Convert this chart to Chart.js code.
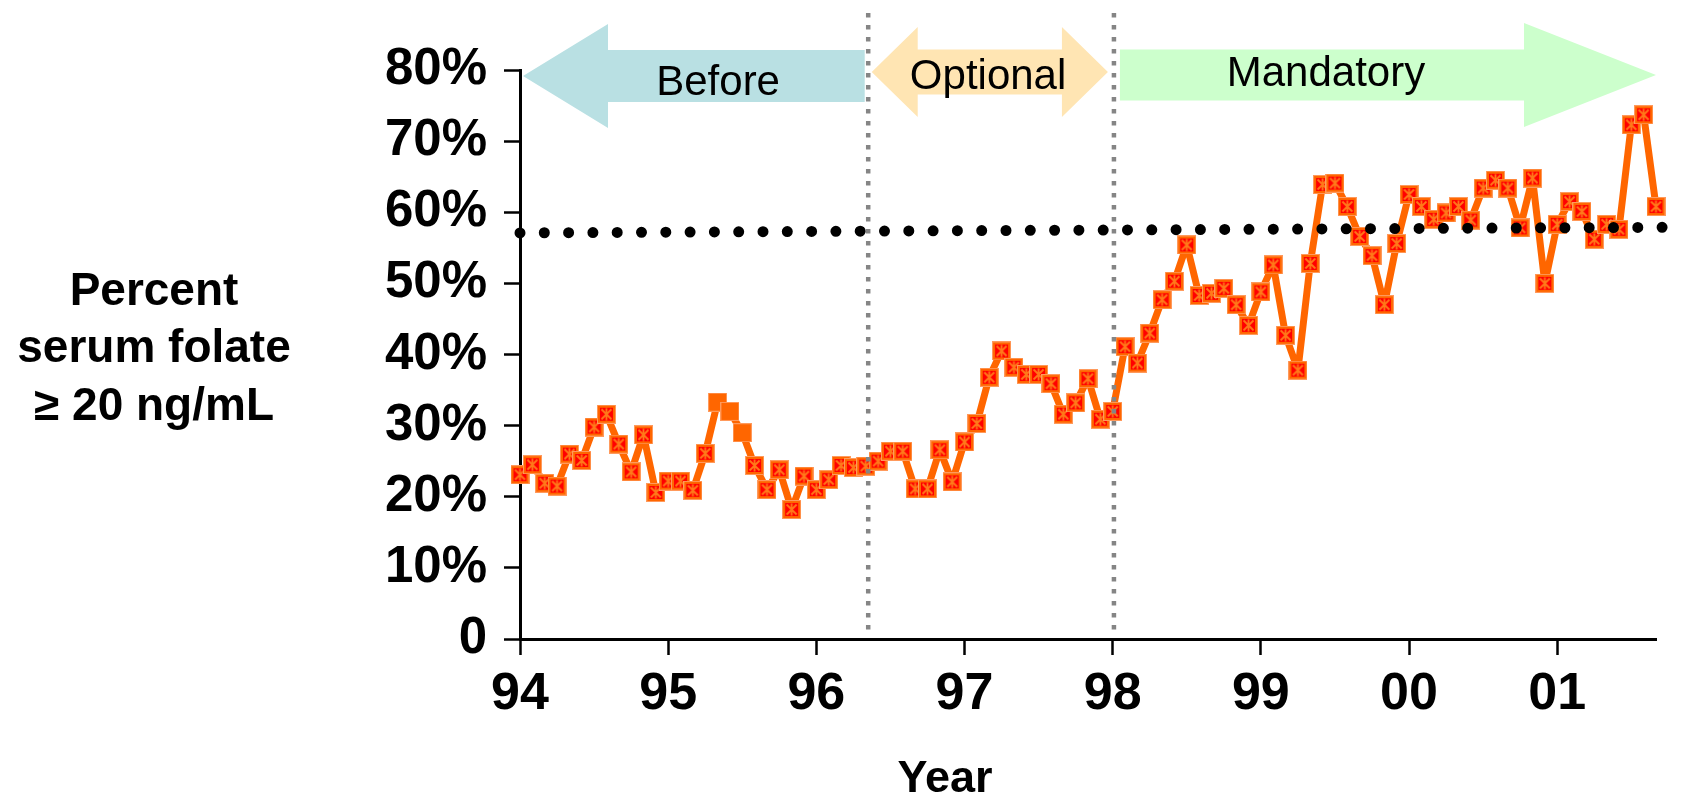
<!DOCTYPE html>
<html>
<head>
<meta charset="utf-8">
<title>Serum folate trend</title>
<script src="https://cdn.jsdelivr.net/npm/chart.js@4/dist/chart.umd.min.js"></script>
<style>
  html, body { margin: 0; padding: 0; background: #ffffff; }
  #wrap { width: 1686px; height: 795px; position: relative; }
</style>
</head>
<body>
<div id="wrap"><canvas id="chart" width="1686" height="795"></canvas></div>
<script>
// Year labels for the x axis (one per January)
const yearTicks = ['94', '95', '96', '97', '98', '99', '00', '01'];
const monthsPerYear = 12;

// Monthly percent of samples with serum folate >= 20 ng/mL, Jan 1994 onward
const folatePct = [
  23.1, 24.5, 21.9, 21.5, 26.0, 25.1, 29.8, 31.6, 27.4, 23.5, 28.7, 20.6,
  22.2, 22.2, 20.9, 26.1, 33.3, 32.0, 29.0, 24.4, 21.0, 23.8, 18.2, 22.9,
  21.0, 22.4, 24.4, 24.1, 24.3, 25.0, 26.4, 26.4, 21.1, 21.1, 26.6, 22.1,
  27.7, 30.3, 36.8, 40.5, 38.2, 37.2, 37.2, 35.9, 31.6, 33.2, 36.6, 30.9,
  32.0, 41.1, 38.8, 43.0, 47.7, 50.3, 55.4, 48.3, 48.6, 49.3, 47.0, 44.1,
  48.8, 52.6, 42.7, 37.8, 52.8, 63.9, 64.1, 60.8, 56.6, 53.9, 47.0, 55.6,
  62.5, 60.8, 59.0, 59.9, 60.8, 58.9, 63.4, 64.5, 63.4, 57.8, 64.8, 50.0,
  58.3, 61.5, 60.1, 56.2, 58.3, 57.6, 72.3, 73.7, 60.8
];

// Months whose markers are drawn as plain orange squares
const plainMarkerMonths = [16, 17, 18];

// Fortification periods and the month index where each new period begins
const phaseNames = ['Before', 'Optional', 'Mandatory'];
const phaseBoundaries = [28.2, 48.1];

// Dotted reference level (percent) across the whole period
const referenceMonths = [0, 94];
const referencePct = [57.1, 57.9];

const yAxisTitle = ['Percent', 'serum folate', '\u2265 20 ng/mL'];
const xAxisTitle = 'Year';

const FONT = '"Liberation Sans", Arial, Helvetica, sans-serif';
const ORANGE = '#FF6600';

const seriesPoints = folatePct.map((v, i) => ({ x: i, y: v }));
const referencePoints = referenceMonths.map((m, i) => ({ x: m, y: referencePct[i] }));

// Marker sprites: red square with orange frame and orange asterisk, and a plain orange square
function makeMarker(plain) {
  const s = 19;
  const c = document.createElement('canvas');
  c.width = s; c.height = s;
  const g = c.getContext('2d');
  g.fillStyle = '#FF9A5C';
  g.fillRect(0, 0, s, s);
  g.fillStyle = ORANGE;
  g.fillRect(1, 1, s - 2, s - 2);
  if (plain) return c;
  g.fillStyle = '#FF0000';
  g.fillRect(3, 3, s - 6, s - 6);
  g.strokeStyle = '#FF7A1A';
  g.lineWidth = 1.8;
  g.beginPath();
  g.moveTo(4.5, 4.5); g.lineTo(14.5, 14.5);
  g.moveTo(14.5, 4.5); g.lineTo(4.5, 14.5);
  g.moveTo(9.5, 3.5); g.lineTo(9.5, 15.5);
  g.stroke();
  return c;
}
const markerImg = makeMarker(false);
const plainImg = makeMarker(true);

function drawArrow(ctx, x0, x1, cy, shaftHalf, headHalf, headLen, leftHead, rightHead, color) {
  ctx.save();
  ctx.fillStyle = color;
  ctx.beginPath();
  const sl = leftHead ? x0 + headLen : x0;
  const sr = rightHead ? x1 - headLen : x1;
  ctx.moveTo(sl, cy - shaftHalf);
  ctx.lineTo(sr, cy - shaftHalf);
  if (rightHead) {
    ctx.lineTo(sr, cy - headHalf);
    ctx.lineTo(x1, cy);
    ctx.lineTo(sr, cy + headHalf);
  }
  ctx.lineTo(sr, cy + shaftHalf);
  ctx.lineTo(sl, cy + shaftHalf);
  if (leftHead) {
    ctx.lineTo(sl, cy + headHalf);
    ctx.lineTo(x0, cy);
    ctx.lineTo(sl, cy - headHalf);
  }
  ctx.closePath();
  ctx.fill();
  ctx.restore();
}

// Period arrows above the plot, positioned from the x scale
const phaseArrows = {
  id: 'phaseArrows',
  beforeDatasetsDraw(chart) {
    const { ctx, chartArea, scales: { x } } = chart;
    const b1 = x.getPixelForValue(phaseBoundaries[0]);
    const b2 = x.getPixelForValue(phaseBoundaries[1]);
    const start = x.getPixelForValue(0);
    const end = chartArea.right;
    drawArrow(ctx, start + 3, b1 - 3.5, 76, 26, 52, 85, true, false, '#B9E0E3');
    drawArrow(ctx, b1 + 3.5, b2 - 6, 72, 22.5, 45, 46, true, true, '#FFE5B3');
    drawArrow(ctx, b2 + 6, end, 75, 25.5, 52, 132, false, true, '#CCFFCC');

    ctx.save();
    ctx.fillStyle = '#000000';
    ctx.font = '42px ' + FONT;
    ctx.textAlign = 'center';
    ctx.textBaseline = 'alphabetic';
    ctx.fillText(phaseNames[0], (start + b1) / 2 + 24, 95);
    ctx.fillText(phaseNames[1], (b1 + b2) / 2 - 3, 89);
    ctx.fillText(phaseNames[2], (b2 + end) / 2 - 59, 86);
    ctx.restore();
  },
  afterDatasetsDraw(chart) {
    const { ctx, chartArea, scales: { x } } = chart;
    ctx.save();
    ctx.strokeStyle = '#858585';
    ctx.lineWidth = 4.5;
    ctx.setLineDash([4.5, 7.5]);
    phaseBoundaries.forEach(m => {
      const px = x.getPixelForValue(m);
      ctx.beginPath();
      ctx.moveTo(px, 13);
      ctx.lineTo(px, chartArea.bottom - 3);
      ctx.stroke();
    });
    ctx.restore();
  },
  afterDraw(chart) {
    const { ctx } = chart;
    ctx.save();
    ctx.fillStyle = '#000000';
    ctx.textAlign = 'center';
    ctx.textBaseline = 'alphabetic';
    ctx.font = 'bold 46px ' + FONT;
    const baselines = [305, 362, 420];
    yAxisTitle.forEach((t, i) => ctx.fillText(t, 154, baselines[i]));
    ctx.font = 'bold 45px ' + FONT;
    ctx.fillText(xAxisTitle, 945, 792);
    ctx.restore();
  }
};

new Chart(document.getElementById('chart'), {
  type: 'line',
  data: {
    datasets: [
      {
        data: referencePoints,
        borderColor: '#000000',
        borderWidth: 11,
        borderDash: [0, 24.3],
        borderCapStyle: 'round',
        pointRadius: 0,
        fill: false,
        clip: false
      },
      {
        data: seriesPoints,
        borderColor: ORANGE,
        borderWidth: 7,
        borderJoinStyle: 'round',
        borderCapStyle: 'round',
        tension: 0,
        fill: false,
        pointStyle: ctx => plainMarkerMonths.includes(ctx.dataIndex) ? plainImg : markerImg,
        pointRadius: 9,
        clip: false
      }
    ]
  },
  options: {
    responsive: false,
    animation: false,
    events: [],
    layout: { padding: { left: 0, right: 30, top: 70, bottom: 0 } },
    plugins: { legend: { display: false }, tooltip: { enabled: false } },
    scales: {
      x: {
        type: 'linear',
        min: 0,
        max: 92,
        afterFit: s => { s.height = 156; },
        border: { display: true, color: '#000000', width: 3 },
        grid: { display: true, drawOnChartArea: false, drawTicks: true, tickLength: 16, tickWidth: 2.5, tickColor: '#000000' },
        ticks: {
          stepSize: monthsPerYear,
          includeBounds: false,
          autoSkip: false,
          maxRotation: 0,
          padding: 8,
          color: '#000000',
          font: { family: FONT, size: 52, weight: 'bold' },
          callback: v => yearTicks[Math.round(v / monthsPerYear)] ?? ''
        }
      },
      y: {
        min: 0,
        max: 80,
        afterFit: s => { s.width = 520; },
        border: { display: true, color: '#000000', width: 3 },
        grid: { display: true, drawOnChartArea: false, drawTicks: true, tickLength: 16, tickWidth: 2.5, tickColor: '#000000' },
        ticks: {
          stepSize: 10,
          autoSkip: false,
          padding: 17,
          color: '#000000',
          font: { family: FONT, size: 51, weight: 'bold' },
          callback: v => v === 0 ? '0' : v + '%'
        }
      }
    }
  },
  plugins: [phaseArrows]
});
</script>
</body>
</html>
